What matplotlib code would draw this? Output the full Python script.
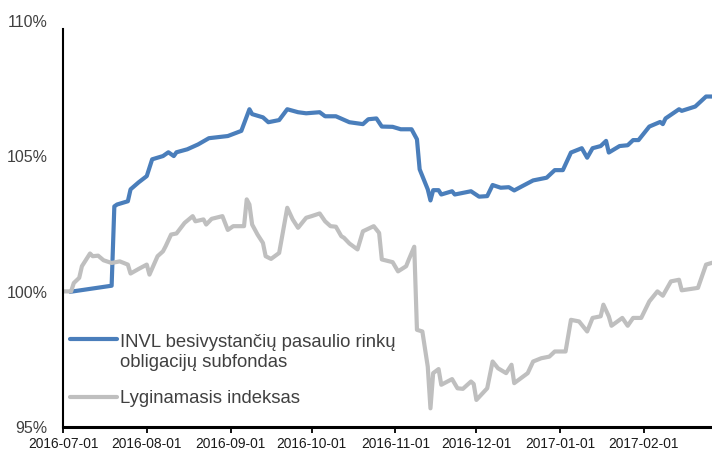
import matplotlib
matplotlib.use("Agg")
import matplotlib.pyplot as plt
import matplotlib.dates as mdates
import pandas as pd

plt.rcParams["font.family"] = ["Liberation Sans", "DejaVu Sans"]

# Fund (blue)
fund_dates = [
    "2016-07-04", "2016-07-19", "2016-07-20", "2016-07-21", "2016-07-25", "2016-07-26",
    "2016-07-29", "2016-08-01", "2016-08-03", "2016-08-07", "2016-08-09", "2016-08-11",
    "2016-08-12", "2016-08-16", "2016-08-20", "2016-08-24", "2016-08-31", "2016-09-05",
    "2016-09-08", "2016-09-09", "2016-09-13", "2016-09-15", "2016-09-19", "2016-09-22",
    "2016-09-26", "2016-09-29", "2016-10-04", "2016-10-06", "2016-10-10", "2016-10-15",
    "2016-10-20", "2016-10-22", "2016-10-25", "2016-10-27", "2016-10-31", "2016-11-03",
    "2016-11-07", "2016-11-09", "2016-11-10", "2016-11-13", "2016-11-14", "2016-11-15",
    "2016-11-17", "2016-11-18", "2016-11-22", "2016-11-23", "2016-11-29", "2016-12-02",
    "2016-12-05", "2016-12-07", "2016-12-10", "2016-12-13", "2016-12-15", "2016-12-18",
    "2016-12-22", "2016-12-27", "2016-12-30", "2017-01-02", "2017-01-05", "2017-01-09",
    "2017-01-11", "2017-01-13", "2017-01-16", "2017-01-18", "2017-01-19", "2017-01-23",
    "2017-01-26", "2017-01-28", "2017-01-30", "2017-02-03", "2017-02-07", "2017-02-08",
    "2017-02-09", "2017-02-14", "2017-02-15", "2017-02-20", "2017-02-24", "2017-02-26",
]
fund_values = [
    100.00, 100.22, 103.15, 103.22, 103.34, 103.78,
    104.04, 104.27, 104.89, 105.01, 105.15, 105.01,
    105.15, 105.26, 105.44, 105.67, 105.75, 105.94,
    106.74, 106.56, 106.44, 106.26, 106.34, 106.74,
    106.63, 106.59, 106.63, 106.48, 106.48, 106.26,
    106.19, 106.37, 106.40, 106.10, 106.09, 106.00,
    106.00, 105.63, 104.52, 103.78, 103.37, 103.75,
    103.75, 103.59, 103.71, 103.59, 103.71, 103.51,
    103.53, 103.94, 103.84, 103.86, 103.74, 103.90,
    104.11, 104.21, 104.49, 104.49, 105.14, 105.30,
    104.95, 105.30, 105.38, 105.57, 105.14, 105.38,
    105.41, 105.60, 105.60, 106.10, 106.27, 106.19,
    106.40, 106.74, 106.68, 106.84, 107.21, 107.21,
]

# Benchmark index (grey)
index_dates = [
    "2016-07-01", "2016-07-04", "2016-07-05", "2016-07-07", "2016-07-08", "2016-07-11",
    "2016-07-12", "2016-07-14", "2016-07-16", "2016-07-19", "2016-07-22", "2016-07-25",
    "2016-07-26", "2016-07-29", "2016-08-01", "2016-08-02", "2016-08-05", "2016-08-07",
    "2016-08-08", "2016-08-10", "2016-08-12", "2016-08-15", "2016-08-18", "2016-08-19",
    "2016-08-22", "2016-08-23", "2016-08-25", "2016-08-29", "2016-08-31", "2016-09-02",
    "2016-09-06", "2016-09-07", "2016-09-08", "2016-09-09", "2016-09-11", "2016-09-13",
    "2016-09-14", "2016-09-16", "2016-09-19", "2016-09-22", "2016-09-24", "2016-09-26",
    "2016-09-29", "2016-10-01", "2016-10-04", "2016-10-06", "2016-10-08", "2016-10-10",
    "2016-10-12", "2016-10-13", "2016-10-15", "2016-10-18", "2016-10-20", "2016-10-24",
    "2016-10-26", "2016-10-27", "2016-10-31", "2016-11-02", "2016-11-05", "2016-11-06",
    "2016-11-08", "2016-11-09", "2016-11-11", "2016-11-13", "2016-11-14", "2016-11-15",
    "2016-11-17", "2016-11-18", "2016-11-22", "2016-11-24", "2016-11-26", "2016-11-29",
    "2016-11-30", "2016-12-01", "2016-12-05", "2016-12-07", "2016-12-09", "2016-12-12",
    "2016-12-14", "2016-12-15", "2016-12-20", "2016-12-22", "2016-12-25", "2016-12-28",
    "2016-12-30", "2017-01-03", "2017-01-05", "2017-01-08", "2017-01-11", "2017-01-13",
    "2017-01-16", "2017-01-17", "2017-01-19", "2017-01-20", "2017-01-24", "2017-01-26",
    "2017-01-28", "2017-01-31", "2017-02-03", "2017-02-06", "2017-02-08", "2017-02-11",
    "2017-02-14", "2017-02-15", "2017-02-21", "2017-02-24", "2017-02-26",
]
index_values = [
    100.01, 100.01, 100.32, 100.51, 100.94, 101.41,
    101.31, 101.33, 101.16, 101.06, 101.12, 101.00,
    100.67, 100.84, 101.00, 100.63, 101.31, 101.49,
    101.68, 102.11, 102.15, 102.54, 102.79, 102.60,
    102.67, 102.48, 102.69, 102.79, 102.28, 102.42,
    102.42, 103.41, 103.22, 102.48, 102.11, 101.80,
    101.31, 101.21, 101.43, 103.10, 102.67, 102.36,
    102.73, 102.79, 102.89, 102.60, 102.42, 102.40,
    102.05, 101.99, 101.78, 101.56, 102.23, 102.42,
    102.17, 101.19, 101.09, 100.75, 100.94, 101.19,
    101.66, 98.59, 98.53, 97.23, 95.69, 96.99,
    97.14, 96.56, 96.77, 96.43, 96.41, 96.68,
    96.59, 96.00, 96.43, 97.42, 97.17, 96.99,
    97.30, 96.62, 96.99, 97.42, 97.54, 97.60,
    97.79, 97.79, 98.96, 98.90, 98.53, 99.03,
    99.09, 99.52, 99.09, 98.74, 99.03, 98.74,
    99.03, 99.03, 99.64, 100.01, 99.85, 100.38,
    100.44, 100.05, 100.14, 101.00, 101.06,
]

fund_label = "INVL besivystančių pasaulio rinkų\nobligacijų subfondas"
index_label = "Lyginamasis indeksas"
tick_dates = ["2016-07-01", "2016-08-01", "2016-09-01", "2016-10-01",
              "2016-11-01", "2016-12-01", "2017-01-01", "2017-02-01"]
y_ticks = [95, 100, 105, 110]

BLUE = "#4A7EBB"
GREY = "#BFBFBF"
LW = 3.0

fig = plt.figure(figsize=(7.12, 4.51), dpi=100)
ax = fig.add_axes([63 / 712, 24 / 451, 649 / 712, 406 / 451])

ax.plot(pd.to_datetime(fund_dates), fund_values, color=BLUE, linewidth=LW,
        solid_joinstyle="round")
ax.plot(pd.to_datetime(index_dates), index_values, color=GREY, linewidth=LW,
        solid_joinstyle="round")

start = pd.Timestamp("2016-07-01")
ax.set_xlim(start, start + pd.Timedelta(days=240.2))
ax.set_ylim(95, 110)

ax.set_xticks(pd.to_datetime(tick_dates))
ax.xaxis.set_major_formatter(mdates.DateFormatter("%Y-%m-%d"))
ax.set_yticks(y_ticks)
ax.set_yticklabels([f"{v}%" for v in y_ticks])

for side in ("top", "right"):
    ax.spines[side].set_visible(False)
ax.spines["left"].set_linewidth(1.5)
ax.spines["left"].set_bounds(95, 109.7)
ax.spines["bottom"].set_linewidth(2.2)

ax.tick_params(axis="x", direction="out", length=4, width=1.3, pad=3,
               labelsize=9.9, labelcolor="#1a1a1a")
ax.tick_params(axis="y", length=0, pad=11, labelsize=11.5, labelcolor="#404040")

# legend drawn by hand so the blue swatch sits on the first label line
# (y_base is the baseline of the last text line)
legend_items = [(fund_label, BLUE, 0.2167, 0.1478), (index_label, GREY, 0.0746, 0.0584)]
for text, color, y_line, y_base in legend_items:
    ax.plot([0.0108, 0.0832], [y_line, y_line], color=color, linewidth=LW,
            transform=ax.transAxes, clip_on=False, solid_capstyle="round")
    ax.text(0.0878, y_base, text, transform=ax.transAxes, fontsize=13.3,
            color="#404040", va="baseline", ha="left", linespacing=1.22)

fig.savefig("out.png", dpi=100)
